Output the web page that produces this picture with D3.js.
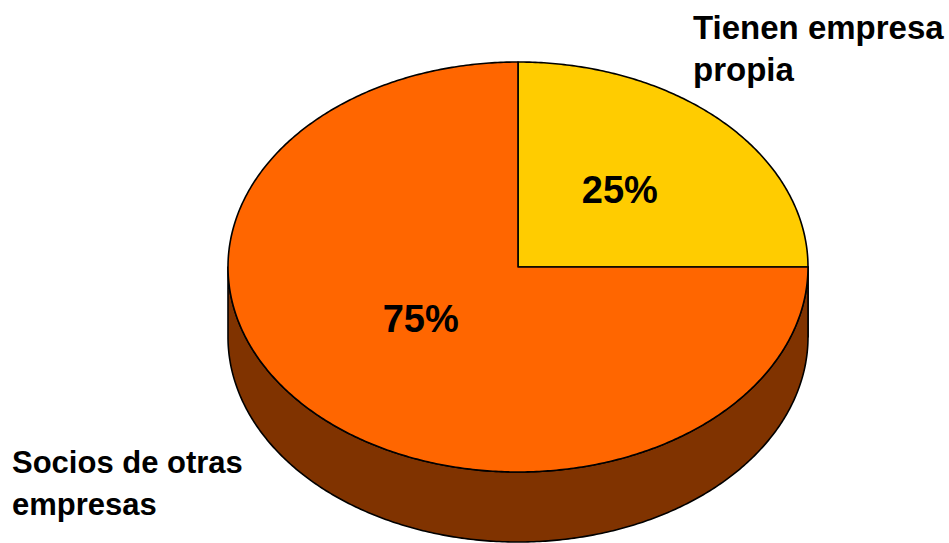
<!DOCTYPE html>
<html>
<head>
<meta charset="utf-8">
<script src="https://cdn.jsdelivr.net/npm/d3@7"></script>
<style>
  html, body { margin: 0; padding: 0; background: #fff; }
  svg { display: block; }
  text { font-family: "Liberation Sans", Arial, sans-serif; font-weight: bold; fill: #000; }
</style>
</head>
<body>
<svg id="chart" width="949" height="543"></svg>
<script>
// ---- data ----
const categories = ["Tienen empresa propia", "Socios de otras empresas"];
const values = [25, 75];
const percentLabels = ["25%", "75%"];
const topColors = ["#FFCC00", "#FF6600"];
const sideColors = ["#806600", "#803300"];

// ---- layout ----
const W = 949, H = 543;
const cx = 518, cy = 267, rx = 290, ry = 205, depth = 70;

const svg = d3.select("#chart");

const pie = d3.pie().sort(null).value(d => d)(values);

function pt(a, dy = 0) {
  return [cx + rx * Math.sin(a), cy - ry * Math.cos(a) + dy];
}
function arcPts(a0, a1, dy = 0) {
  const n = Math.max(2, Math.ceil(Math.abs(a1 - a0) / 0.01));
  const pts = [];
  for (let i = 0; i <= n; i++) {
    pts.push(pt(a0 + (a1 - a0) * i / n, dy));
  }
  return pts;
}
const line = d3.line();

// side walls (visible only between 90° and 270° in pie angles)
const sideG = svg.append("g");
pie.forEach((d, i) => {
  const lo = Math.max(d.startAngle, Math.PI / 2);
  const hi = Math.min(d.endAngle, 3 * Math.PI / 2);
  if (hi <= lo) return;
  const top = arcPts(lo, hi, 0);
  const bot = arcPts(hi, lo, depth);
  sideG.append("path")
    .attr("d", line(top.concat(bot)) + "Z")
    .attr("fill", sideColors[i])
    .attr("stroke", "#000")
    .attr("stroke-width", 1.6)
    .attr("stroke-linejoin", "round");
});

// top faces
const topG = svg.append("g");
pie.forEach((d, i) => {
  const pts = [[cx, cy]].concat(arcPts(d.startAngle, d.endAngle, 0));
  topG.append("path")
    .attr("d", line(pts) + "Z")
    .attr("fill", topColors[i])
    .attr("stroke", "#000")
    .attr("stroke-width", 1.6)
    .attr("stroke-linejoin", "round");
});

// percentage labels
const labelFrac = [0.515, 0.42];
const labelAngleShift = [-0.035, 0.14];
pie.forEach((d, i) => {
  const mid = (d.startAngle + d.endAngle) / 2 + labelAngleShift[i];
  const f = labelFrac[i];
  const x = cx + rx * f * Math.sin(mid);
  const y = cy - ry * f * Math.cos(mid);
  svg.append("text")
    .attr("x", x)
    .attr("y", y + 13)
    .attr("text-anchor", "middle")
    .attr("font-size", 38)
    .text(percentLabels[i]);
});

// category labels
const catLayout = [
  { x: 693, y: 39, size: 33, lines: ["Tienen empresa", "propia"] },
  { x: 12, y: 473, size: 31, lines: ["Socios de otras", "empresas"] }
];
catLayout.forEach((c, i) => {
  const t = svg.append("text")
    .attr("x", c.x).attr("y", c.y)
    .attr("font-size", c.size);
  c.lines.forEach((l, j) => {
    t.append("tspan").attr("x", c.x).attr("dy", j === 0 ? 0 : 41.5).text(l);
  });
});
</script>
</body>
</html>
